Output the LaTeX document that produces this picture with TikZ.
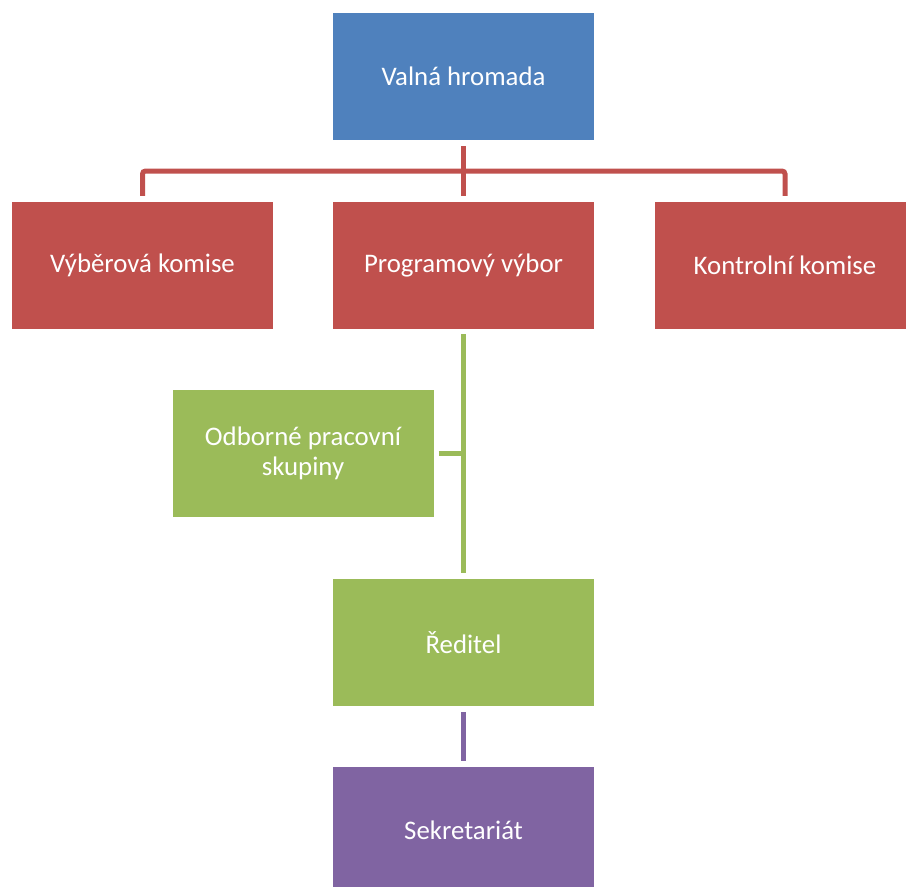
\documentclass[tikz,border=0pt]{standalone}
\usepackage{fontspec}
\setmainfont{Carlito}
\usetikzlibrary{calc}
\definecolor{cblue}{HTML}{4F81BD}
\definecolor{cred}{HTML}{C0504D}
\definecolor{cgreen}{HTML}{9BBB59}
\definecolor{cpurple}{HTML}{8064A2}
\tikzset{
  box/.style={rectangle, minimum width=261pt, minimum height=127pt, inner sep=0pt,
    text=white, align=center, font=\fontsize{26.8}{30}\selectfont},
  conn/.style={line width=5pt}
}
\begin{document}
\begin{tikzpicture}[x=1pt,y=-1pt]
\useasboundingbox (0,0) rectangle (906,887);
\node[box, fill=cblue] (vh) at (463.5,76.5) {Valná hromada};
\node[box, fill=cred] (vk) at (142.5,265.5) {Výběrová komise};
\node[box, fill=cred] (pv) at (463.5,265.5) {Programový výbor};
\node[box, fill=cred] (kk) at (785,265.5) {Kontrolní komise};
\node[box, fill=cgreen] (ob) at (303,453.5) {Odborné pracovní\\skupiny};
\node[box, fill=cgreen] (re) at (463.5,642.5) {Ředitel};
\node[box, fill=cpurple] (se) at (463.5,830.5) {Sekretariát};
\coordinate (bar) at ($(vh.south)!0.5!(pv.north)$);
\draw[conn, cred] ([yshift=-6pt]vh.south) -- ([yshift=6pt]pv.north);
\draw[conn, cred, rounded corners=3pt] ([yshift=6pt]vk.north) |- (bar) -| ([yshift=6pt]kk.north);
\draw[conn, cgreen] ([yshift=-5pt]pv.south) -- ([yshift=6pt]re.north);
\draw[conn, cgreen] ([xshift=5pt]ob.east) -- (ob.east -| pv.south);
\draw[conn, cpurple] ([yshift=-6pt]re.south) -- ([yshift=6pt]se.north);
\end{tikzpicture}
\end{document}
